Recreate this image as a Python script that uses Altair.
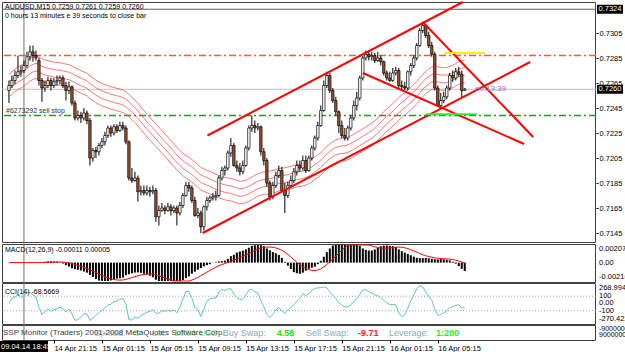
import altair as alt
import pandas as pd

# ---------------- data (AUDUSD M15, price x 10^4) ----------------
OPEN_P = [
    7259, 7263, 7267, 7271, 7274, 7275, 7279, 7286, 7290, 7287,
    7283, 7267, 7261, 7263, 7267, 7263, 7266, 7267, 7269, 7263,
    7259, 7262, 7249, 7237, 7239, 7237, 7241, 7235, 7205, 7211,
    7210, 7215, 7218, 7223, 7229, 7225, 7230, 7227, 7231, 7229,
    7218, 7189, 7187, 7189, 7178, 7179, 7177, 7179, 7178, 7179,
    7158, 7163, 7165, 7163, 7166, 7163, 7165, 7161, 7167, 7175,
    7183, 7181, 7171, 7159, 7161, 7150, 7166, 7171, 7173, 7174,
    7175, 7189, 7195, 7197, 7209, 7215, 7199, 7197, 7194, 7199,
    7213, 7229, 7231, 7229, 7230, 7210, 7203, 7185, 7174, 7183,
    7191, 7195, 7179, 7175, 7183, 7187, 7194, 7199, 7197, 7203,
    7195, 7205, 7213, 7221, 7231, 7243, 7263, 7271, 7259, 7251,
    7242, 7231, 7223, 7221, 7229, 7237, 7247, 7253, 7269, 7285,
    7288, 7286, 7287, 7283, 7285, 7282, 7273, 7269, 7267, 7273,
    7275, 7263, 7262, 7261, 7274, 7279, 7285, 7295, 7307, 7311,
    7303, 7295, 7288, 7261, 7247, 7251, 7254, 7261, 7271, 7269,
    7274, 7272, 7259,
]
HIGH_P = [
    7267, 7271, 7275, 7287, 7279, 7283, 7290, 7295, 7295, 7291,
    7285, 7269, 7267, 7270, 7269, 7269, 7271, 7271, 7271, 7266,
    7266, 7263, 7251, 7243, 7242, 7245, 7243, 7237, 7213, 7214,
    7217, 7221, 7226, 7231, 7231, 7232, 7232, 7234, 7234, 7231,
    7219, 7197, 7194, 7191, 7183, 7183, 7183, 7182, 7183, 7181,
    7167, 7169, 7167, 7169, 7168, 7167, 7167, 7170, 7177, 7186,
    7186, 7183, 7174, 7165, 7163, 7167, 7174, 7175, 7177, 7179,
    7191, 7198, 7199, 7211, 7221, 7217, 7203, 7201, 7203, 7215,
    7231, 7239, 7235, 7233, 7231, 7213, 7205, 7187, 7186, 7194,
    7199, 7198, 7185, 7186, 7191, 7197, 7203, 7203, 7207, 7207,
    7207, 7215, 7223, 7234, 7247, 7267, 7274, 7273, 7261, 7254,
    7243, 7235, 7229, 7231, 7239, 7251, 7258, 7271, 7287, 7291,
    7291, 7290, 7289, 7290, 7287, 7283, 7275, 7274, 7277, 7278,
    7277, 7267, 7266, 7275, 7281, 7287, 7297, 7309, 7314, 7312,
    7306, 7298, 7290, 7263, 7257, 7258, 7263, 7273, 7275, 7277,
    7278, 7275, 7261,
]
LOW_P = [
    7249, 7261, 7264, 7269, 7270, 7273, 7277, 7283, 7282, 7283,
    7263, 7250, 7258, 7261, 7259, 7261, 7263, 7264, 7261, 7251,
    7256, 7247, 7235, 7235, 7233, 7235, 7232, 7199, 7202, 7205,
    7207, 7213, 7215, 7221, 7222, 7223, 7225, 7226, 7227, 7216,
    7187, 7185, 7186, 7170, 7175, 7175, 7175, 7174, 7176, 7154,
    7151, 7162, 7160, 7162, 7159, 7161, 7151, 7159, 7165, 7174,
    7178, 7169, 7158, 7157, 7145, 7147, 7163, 7169, 7171, 7171,
    7174, 7187, 7191, 7195, 7206, 7198, 7194, 7191, 7192, 7198,
    7211, 7226, 7225, 7227, 7207, 7199, 7182, 7171, 7172, 7181,
    7189, 7178, 7161, 7173, 7181, 7185, 7191, 7194, 7195, 7193,
    7194, 7203, 7211, 7219, 7230, 7242, 7261, 7257, 7249, 7239,
    7225, 7221, 7219, 7219, 7227, 7235, 7243, 7251, 7267, 7283,
    7283, 7283, 7281, 7282, 7279, 7271, 7267, 7266, 7266, 7271,
    7261, 7259, 7259, 7259, 7271, 7277, 7283, 7294, 7305, 7301,
    7293, 7286, 7259, 7246, 7245, 7249, 7252, 7259, 7266, 7267,
    7270, 7253, 7259,
]
CLOSE_P = [
    7263, 7267, 7271, 7274, 7275, 7279, 7286, 7290, 7287, 7285,
    7267, 7261, 7263, 7267, 7263, 7266, 7267, 7269, 7263, 7259,
    7262, 7249, 7237, 7239, 7237, 7241, 7235, 7205, 7211, 7210,
    7215, 7218, 7223, 7229, 7225, 7230, 7227, 7231, 7229, 7218,
    7189, 7187, 7189, 7178, 7179, 7177, 7179, 7178, 7179, 7158,
    7163, 7165, 7163, 7166, 7163, 7165, 7161, 7167, 7175, 7183,
    7181, 7171, 7159, 7161, 7150, 7166, 7171, 7173, 7174, 7175,
    7189, 7195, 7197, 7209, 7215, 7199, 7197, 7194, 7199, 7213,
    7229, 7231, 7229, 7230, 7210, 7203, 7185, 7174, 7183, 7191,
    7195, 7179, 7175, 7183, 7187, 7194, 7199, 7197, 7203, 7195,
    7205, 7213, 7221, 7231, 7243, 7263, 7271, 7259, 7251, 7242,
    7231, 7223, 7221, 7229, 7237, 7247, 7253, 7269, 7285, 7288,
    7286, 7287, 7283, 7285, 7282, 7273, 7269, 7267, 7273, 7275,
    7263, 7262, 7261, 7274, 7279, 7285, 7295, 7307, 7311, 7303,
    7295, 7288, 7261, 7247, 7251, 7254, 7261, 7271, 7269, 7274,
    7272, 7259, 7260,
]

TIME_TICKS = [15, 31, 47, 63, 79, 95, 111, 127, 143]
TIME_LABELS = ["14 Apr 21:15", "15 Apr 01:15", "15 Apr 05:15", "15 Apr 09:15",
               "15 Apr 13:15", "15 Apr 17:15", "15 Apr 21:15", "16 Apr 01:15",
               "16 Apr 05:15"]
PRICE_TICKS = [0.7305, 0.7285, 0.7265, 0.7245, 0.7225, 0.7205, 0.7185, 0.7165, 0.7145]
MACD_TICKS = [0.00207, 0.0, -0.00216]
MACD_TICK_LABELS = ["0.00207", "0.00", "-0.00216"]
CCI_TICKS = [268.9946, 100, 0, -100, -270.422]
CCI_TICK_LABELS = ["268.9946", "100", "0.00", "-100", "-270.422"]

X_DOMAIN = [-0.656, 194.1]
PRICE_DOMAIN = [0.71378, 0.73298]
MACD_DOMAIN = [-0.00216, 0.00207]
CCI_DOMAIN = [-270.422, 268.9946]

MA_PERIOD = 38
ENV_OFFSETS = [0.0009, 0.0003, -0.0003, -0.0009]

# trend lines: start/end (bar index, price)
TL_I1 = [66.2, 64.6, 138.0, 118.0]
TL_P1 = [0.7223, 0.7145, 0.73138, 0.7273]
TL_I2 = [151.4, 173.8, 174.8, 171.8]
TL_P2 = [0.73298, 0.72818, 0.72218, 0.72162]

DASHDOT_PRICES = [0.7287, 0.7239]
DASHDOT_COLORS = ["#ff5533", "#1f9a1f"]
BID_PRICE = 0.7260
TOP_LINE_PRICE = 0.7324
SEG_I1 = [145.2, 139.0]
SEG_I2 = [158.7, 156.0]
SEG_P = [0.7289, 0.7240]
SEG_COLORS = ["#ffee00", "#33ee33"]
VLINE_I = 5
BOX_PRICES = [0.7324, 0.7260]
BOX_LABELS = ["0.7324", "0.7260"]

FONT = "Liberation Sans"
W, H = 594, 338

n = len(CLOSE_P)
assert len(OPEN_P) == len(HIGH_P) == len(LOW_P) == n
df = pd.DataFrame({
    "i": list(range(n)),
    "open": [v / 10000 for v in OPEN_P],
    "high": [v / 10000 for v in HIGH_P],
    "low": [v / 10000 for v in LOW_P],
    "close": [v / 10000 for v in CLOSE_P],
})
df["dir"] = ["up" if c >= o else "down" for o, c in zip(OPEN_P, CLOSE_P)]

labels_js = "[" + ",".join("'%s'" % s for s in TIME_LABELS) + "]"
ticks_js = "[" + ",".join(str(v) for v in TIME_TICKS) + "]"
XS = alt.Scale(domain=X_DOMAIN, nice=False, zero=False)
XAX = alt.Axis(values=TIME_TICKS, labelExpr="%s[indexof(%s, datum.value)]" % (labels_js, ticks_js),
               labelAlign="left", labelBaseline="top", labelPadding=1, tickSize=3,
               tickColor="black", labelColor="black", labelFont=FONT, labelFontSize=7.5,
               domain=False, grid=False, labelFlush=False, labelOverlap=False)


def X(field="i"):
    return alt.X(field + ":Q", scale=XS, axis=XAX, title=None)


PY = alt.Scale(domain=PRICE_DOMAIN, range=[240, 0], nice=False, zero=False)
MY = alt.Scale(domain=MACD_DOMAIN, range=[279, 243], nice=False, zero=False, clamp=True)
CY = alt.Scale(domain=CCI_DOMAIN, range=[321, 282], nice=False, zero=False, clamp=True)

SORT = [alt.SortField("i")]
one = pd.DataFrame({"k": [0]})


def label(text, x, y, color="black", size=7.0, weight="normal", align="left", baseline="middle", opacity=1.0):
    return alt.Chart(pd.DataFrame({"t": [text]})).mark_text(
        align=align, baseline=baseline, color=color, fontSize=size, fontWeight=weight, font=FONT,
        opacity=opacity
    ).encode(x=alt.value(x), y=alt.value(y), text="t:N")


layers = []

# panel frames
for y0, y1 in [(0.5, 240.5), (242.5, 280.5), (281.5, 322.5), (323.5, 338.5)]:
    layers.append(alt.Chart(one).mark_rect(filled=False, stroke="#404040", strokeWidth=1).encode(
        x=alt.value(0.5), x2=alt.value(593.5), y=alt.value(y0), y2=alt.value(y1)))

# horizontal lines
layers.append(alt.Chart(pd.DataFrame({"p": [BID_PRICE]})).mark_rule(color="#c0c0c0", strokeWidth=1).encode(
    y=alt.Y("p:Q", scale=PY, axis=None)))
layers.append(alt.Chart(pd.DataFrame({"p": [TOP_LINE_PRICE]})).mark_rule(color="#606060", strokeWidth=1).encode(
    y=alt.Y("p:Q", scale=PY, axis=None)))
for p, c in zip(DASHDOT_PRICES, DASHDOT_COLORS):
    layers.append(alt.Chart(pd.DataFrame({"p": [p]})).mark_rule(
        color=c, stroke=c, strokeOpacity=1, strokeWidth=1.3, strokeDash=[7, 3, 2, 3]).encode(
        y=alt.Y("p:Q", scale=PY, axis=None)))

# vertical line
layers.append(alt.Chart(pd.DataFrame({"i": [VLINE_I]})).mark_rule(color="#707070", strokeWidth=1).encode(x=X()))

# envelope lines
env = alt.Chart(df).transform_window(ma="mean(close)", frame=[-(MA_PERIOD - 1), 0], sort=SORT)
names = []
for k, off in enumerate(ENV_OFFSETS):
    env = env.transform_calculate(**{"e%d" % k: "datum.ma + (%r)" % off})
    names.append("e%d" % k)
env = env.transform_fold(names, as_=["band", "val"]).mark_line(
    color="#ff4040", strokeWidth=0.9, opacity=0.8).encode(
    x=X(), y=alt.Y("val:Q", scale=PY, axis=None), detail="band:N")
layers.append(env)

# candles
base = alt.Chart(df)
layers.append(base.mark_rule(color="black", strokeWidth=1).encode(
    x=X(), y=alt.Y("low:Q", scale=PY, axis=None), y2="high:Q"))
layers.append(base.mark_bar(size=2.4, stroke="black", strokeWidth=0.7).encode(
    x=X(),
    y=alt.Y("open:Q", scale=PY, axis=alt.Axis(
        orient="right", values=PRICE_TICKS, format=".4f", labelFont=FONT, labelFontSize=7.5,
        labelColor="black", tickColor="black", tickSize=2, labelPadding=1, domain=False, grid=False,
        labelBaseline="middle", labelOverlap=False, labelFlush=False), title=None),
    y2="close:Q",
    fill=alt.Fill("dir:N", scale=alt.Scale(domain=["up", "down"], range=["#ffffff", "#a0522d"]), legend=None)))

# trend lines
tl = pd.DataFrame({"i": TL_I1, "i2": TL_I2, "p": TL_P1, "p2": TL_P2})
layers.append(alt.Chart(tl).mark_rule(color="#ff0000", strokeWidth=2).encode(
    x=X(), x2="i2:Q", y=alt.Y("p:Q", scale=PY, axis=None), y2="p2:Q"))
for a, b, p, c in zip(SEG_I1, SEG_I2, SEG_P, SEG_COLORS):
    layers.append(alt.Chart(pd.DataFrame({"i": [a], "i2": [b], "p": [p]})).mark_rule(
        color=c, strokeWidth=2).encode(x=X(), x2="i2:Q", y=alt.Y("p:Q", scale=PY, axis=None)))

# highlighted price boxes
bx = pd.DataFrame({"p": BOX_PRICES, "t": BOX_LABELS})
bx["lo"] = bx["p"] - 0.00036
bx["hi"] = bx["p"] + 0.00036
layers.append(alt.Chart(bx).mark_rect(color="black").encode(
    x=alt.value(595), x2=alt.value(621), y=alt.Y("lo:Q", scale=PY, axis=None), y2="hi:Q"))
layers.append(alt.Chart(bx).mark_text(align="left", baseline="middle", color="white", fontSize=7.5, font=FONT).encode(
    x=alt.value(596.5), y=alt.Y("p:Q", scale=PY, axis=None), text="t:N"))

# MACD
macd = (alt.Chart(df)
        .transform_window(s12="mean(close)", frame=[-11, 0], sort=SORT)
        .transform_window(s26="mean(close)", frame=[-25, 0], sort=SORT)
        .transform_calculate(macd="datum.s12 - datum.s26")
        .transform_window(sig="mean(macd)", frame=[-8, 0], sort=SORT))
layers.append(macd.mark_bar(size=2, color="black").encode(
    x=X(), y=alt.Y("macd:Q", scale=MY, axis=None), y2=alt.datum(0)))
layers.append(macd.mark_line(color="#ff0000", strokeWidth=1).encode(
    x=X(), y=alt.Y("sig:Q", scale=MY, axis=None)))

# CCI
cci = (alt.Chart(df)
       .transform_calculate(tp="(datum.high + datum.low + datum.close) / 3")
       .transform_window(m="mean(tp)", sd="stdev(tp)", frame=[-13, 0], sort=SORT)
       .transform_calculate(cci="isValid(datum.sd) && datum.sd > 0 ? (datum.tp - datum.m) / (0.015 * 0.65 * datum.sd) : 0"))
layers.append(alt.Chart(pd.DataFrame({"v": [100, -100]})).mark_rule(
    color="#a8a8a8", strokeWidth=1, strokeDash=[1, 2]).encode(y=alt.Y("v:Q", scale=CY, axis=None)))
layers.append(cci.mark_line(color="#5cc6c6", strokeWidth=1).encode(
    x=X(), y=alt.Y("cci:Q", scale=CY, axis=None)))


# right-hand labels for indicator panels
def side_labels(vals, texts, scale, baseline):
    d = pd.DataFrame({"v": vals, "t": texts})
    return alt.Chart(d).mark_text(align="left", baseline=baseline, fontSize=7.5, font=FONT, color="black").encode(
        x=alt.value(597), y=alt.Y("v:Q", scale=scale, axis=None), text="t:N")


layers.append(side_labels(MACD_TICKS[:1], MACD_TICK_LABELS[:1], MY, "top"))
layers.append(side_labels(MACD_TICKS[1:2], MACD_TICK_LABELS[1:2], MY, "middle"))
layers.append(side_labels(MACD_TICKS[2:], MACD_TICK_LABELS[2:], MY, "bottom"))
layers.append(side_labels(CCI_TICKS[:1], CCI_TICK_LABELS[:1], CY, "top"))
layers.append(side_labels(CCI_TICKS[1:4], CCI_TICK_LABELS[1:4], CY, "middle"))
layers.append(side_labels(CCI_TICKS[4:], CCI_TICK_LABELS[4:], CY, "bottom"))

# texts
layers += [
    label("AUDUSD,M15  0.7259 0.7261 0.7259 0.7260", 3, 5),
    label("0 hours 13 minutes e 39 seconds to close bar", 3, 14),
    label("#6273292 sell stop", 4, 109, color="#303030"),
    label("e0:13:39", 473, 87, color="#b466c8", size=8),
    label("MACD(12,26,9) -0.00011 0.00005", 3, 248),
    label("CCI(14) -68.5669", 3, 290),
    label("Spread:", 92, 331, color="#9ab8c6", size=9, opacity=0.8),
    label("3", 132, 331, color="#66ee66", size=9, opacity=0.8),
    label("Lot:", 150, 331, color="#9ab8c6", size=9, opacity=0.8),
    label("10.00 USD", 172, 331, color="#66ee66", size=9, opacity=0.8),
    label("SSP Monitor (Traders)", 1, 331, color="#404040", size=8),
    label("2001-2008 MetaQuotes Software Corp.", 83, 331, color="#404040", size=8),
    label("Buy Swap:", 220.7, 331, color="#86aabb", size=9),
    label("4.58", 274.7, 331, color="#22dd22", size=9, weight="bold"),
    label("Sell Swap:", 304, 331, color="#86aabb", size=9),
    label("-9.71", 356, 331, color="#ff2020", size=9, weight="bold"),
    label("Leverage:", 387, 331, color="#86aabb", size=9),
    label("1:200", 434, 331, color="#22ee22", size=9, weight="bold"),
    label("-9000000", 597, 327, size=7),
    label("9000000", 597, 332.5, size=7),
]

# time cursor box
layers.append(alt.Chart(one).mark_rect(color="black").encode(
    x=alt.value(-2), x2=alt.value(46), y=alt.value(339), y2=alt.value(350)))
layers.append(label("09.04.14 18:45", -1, 344.5, color="white", size=7.5))

chart = (alt.layer(*layers)
         .resolve_scale(y="independent")
         .properties(width=W, height=H,
                     padding={"left": 2, "top": 2, "right": 29, "bottom": 12},
                     autosize=alt.AutoSizeParams(type="none"),
                     background="white")
         .configure_view(strokeWidth=0))

chart.save("out.html", embed_options={"renderer": "svg", "actions": False})
